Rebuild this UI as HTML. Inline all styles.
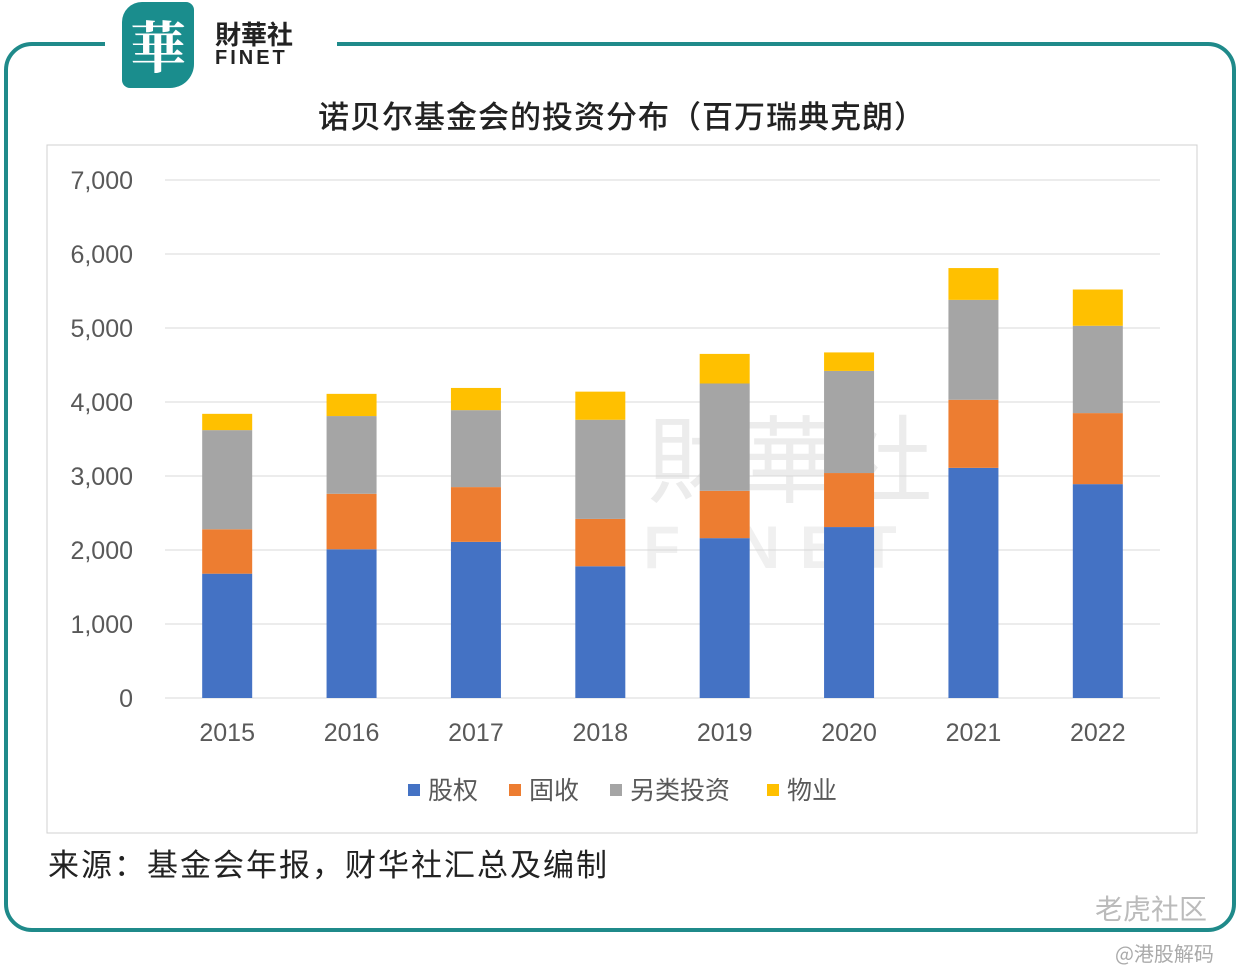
<!DOCTYPE html>
<html><head><meta charset="utf-8"><style>
body{margin:0;width:1244px;height:978px;background:#fff;position:relative;overflow:hidden;font-family:"Liberation Sans","Noto Sans CJK SC",sans-serif}
.frame{position:absolute;left:4px;top:42px;width:1232px;height:890px;border:4px solid #1f8a8a;border-radius:28px;box-sizing:border-box}
.gap{position:absolute;left:105px;top:36px;width:232px;height:14px;background:#fff}
</style></head><body>
<div class="frame"></div>
<div class="gap"></div>
<div style="position:absolute;left:122px;top:2px;width:72px;height:86px;background:#1a8d8d;border-radius:20px 8px 24px 8px;color:#fff;font:bold 56px 'Noto Serif CJK SC',serif;text-align:center;line-height:86px">華</div>
<div style="position:absolute;left:215px;top:20px;font:bold 26px 'Noto Sans CJK SC',sans-serif;color:#222;line-height:28px">財華社<div style="font:bold 20px 'Liberation Sans',sans-serif;letter-spacing:3px;line-height:20px">FINET</div></div>
<div style="position:absolute;left:0;width:1244px;top:92px;text-align:center;font:500 31px 'Noto Sans CJK SC',sans-serif;letter-spacing:1px;color:#222">诺贝尔基金会的投资分布（百万瑞典克朗）</div>
<svg width="1244" height="978" style="position:absolute;left:0;top:0" id="c">
<rect x="47" y="145" width="1150" height="688" fill="none" stroke="#d0d0d0"/>
<text x="790" y="495" font-size="95" fill="#ececec" text-anchor="middle" font-family="Noto Sans CJK SC">財華社</text>
<text x="780" y="568" font-size="60" fill="#f0f0f0" text-anchor="middle" font-family="Liberation Sans" font-weight="bold" letter-spacing="20">FINET</text>
</svg>
<div style="position:absolute;left:48px;top:840px;font-size:31px;letter-spacing:2px;color:#222;font-family:'Noto Sans CJK SC',sans-serif">来源：基金会年报，财华社汇总及编制</div>
<div style="position:absolute;left:1095px;top:888px;font-size:28px;color:#bbb;font-family:'Noto Sans CJK SC',sans-serif">老虎社区</div>
<div style="position:absolute;left:1115px;top:938px;font-size:20px;color:#aaa;font-family:'Noto Sans CJK SC',sans-serif">@港股解码</div>
<script>
const years=["2015","2016","2017","2018","2019","2020","2021","2022"];
const equity=[1680,2010,2110,1780,2160,2310,3110,2890];
const fixedIncome=[600,750,740,640,640,730,920,960];
const alternatives=[1340,1050,1040,1340,1450,1380,1350,1180];
const property=[220,300,300,380,400,250,430,490];
const yTicks=[0,1000,2000,3000,4000,5000,6000,7000];
const tickLabels=["0","1,000","2,000","3,000","4,000","5,000","6,000","7,000"];
const series=[["股权",equity,"#4472c4"],["固收",fixedIncome,"#ed7d31"],["另类投资",alternatives,"#a5a5a5"],["物业",property,"#ffc000"]];
const svg=document.getElementById('c'),NS="http://www.w3.org/2000/svg";
const x0=165,x1=1160,bw=(x1-x0)/years.length;
const y=v=>698-v*(518/7000);
const xc=i=>x0+bw*(i+0.5);
function mk(t,a,txt){const e=document.createElementNS(NS,t);for(const k in a)e.setAttribute(k,a[k]);if(txt!=null)e.textContent=txt;svg.appendChild(e);return e;}
yTicks.forEach((v,i)=>{
 const l=mk('line',{x1:x0,x2:x1,y1:y(v),y2:y(v),stroke:'#d9d9d9','stroke-width':1});
 
 
 const t=mk('text',{x:133,y:y(v)+9,'text-anchor':'end','font-size':25,fill:'#595959','font-family':'Liberation Sans'},tickLabels[i]);
 
 
});
years.forEach((yr,i)=>{
 let base=0;
 series.forEach(s=>{
  const v=s[1][i];
  const r=mk('rect',{x:xc(i)-25,width:50,y:y(base+v),height:y(base)-y(base+v),fill:s[2]});
  
  
  base+=v;
 });
 const t=mk('text',{x:xc(i),y:741,'text-anchor':'middle','font-size':25,fill:'#595959','font-family':'Liberation Sans'},yr);
 
 
});
const lx=[408,509,610,767];
series.forEach((s,i)=>{
 const r=mk('rect',{x:lx[i],y:784,width:12,height:12,fill:s[2]});
 
 
 const t=mk('text',{x:lx[i]+20,y:799,'font-size':25,fill:'#595959','font-family':'Noto Sans CJK SC'},s[0]);
 
 
});
</script>
</body></html>
